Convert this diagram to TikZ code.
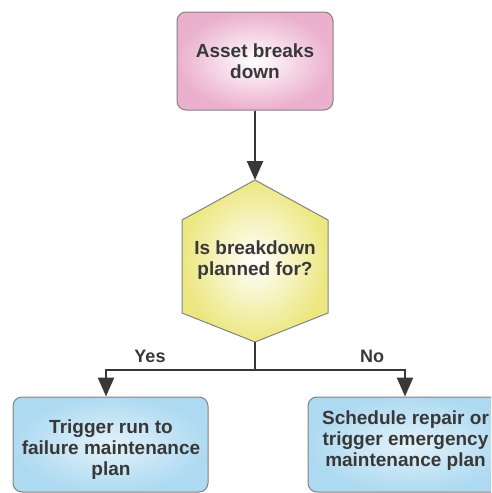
\documentclass[tikz,border=0pt]{standalone}
\usepackage{fontspec}
\setmainfont{Liberation Sans}
\usetikzlibrary{arrows.meta}

\definecolor{rosa}{HTML}{EBB0CD}
\definecolor{amarillo}{HTML}{ECE780}
\definecolor{celeste}{HTML}{AEDAF1}
\definecolor{borde}{HTML}{828282}
\definecolor{texto}{HTML}{383838}

\tikzset{
	caja/.style={rectangle, rounded corners=9pt, draw=borde, line width=1pt,
		align=center, text=texto, font=\bfseries\fontsize{19}{21}\selectfont,
		inner sep=0pt},
	rotulo/.style={align=center, text=texto, font=\bfseries\fontsize{19}{21}\selectfont},
	flecha/.style={draw=texto, line width=2.4pt, -{Triangle[width=16pt,length=19pt]}},
	linea/.style={draw=texto, line width=2.4pt},
	etiqueta/.style={text=texto, font=\bfseries\fontsize{18}{20}\selectfont}
}

\begin{document}
\begin{tikzpicture}[x=1pt, y=-1pt]

\useasboundingbox (0,0) rectangle (491,493);
\clip (0,0) rectangle (491,493);

% Inicio
\node[caja, inner color=white, outer color=rosa, minimum width=156pt, minimum height=98pt]
	(averia) at (255,61) {Asset breaks\\down};

% Decision
\coordinate (h1) at (255,180);
\coordinate (h2) at (328,220);
\coordinate (h3) at (328,313);
\coordinate (h4) at (255,342);
\coordinate (h5) at (182,313);
\coordinate (h6) at (182,220);
\shadedraw[inner color=white, outer color=amarillo, draw=borde, line width=1pt]
	(h1) -- (h2) -- (h3) -- (h4) -- (h5) -- (h6) -- cycle;
\node[rotulo] (pregunta) at (255,260) {Is breakdown\\planned for?};

% Resultados
\node[caja, inner color=white!65!celeste, outer color=celeste, minimum width=195pt, minimum height=95pt]
	(falla) at (110.5,444.5) {};
\node[rotulo] (txtfalla) at (111,450) {Trigger run to\\failure maintenance\\plan};
\node[caja, inner color=white!65!celeste, outer color=celeste, minimum width=204pt, minimum height=95pt]
	(reparar) at (410,444.5) {};
\node[rotulo] (txtreparar) at (405.5,441) {Schedule repair or\\trigger emergency\\maintenance plan};

% Conectores
\coordinate (rama) at (255,370);
\draw[flecha] (averia.south) -- (h1);
\draw[linea] (h4) -- (rama);
\draw[flecha] (rama) -| ([xshift=-4.5pt]falla.north);
\draw[flecha] (rama) -| ([xshift=-5pt]reparar.north);

\node[etiqueta] (si) at (150,356) {Yes};
\node[etiqueta] (no) at (372,356) {No};

\end{tikzpicture}
\end{document}
